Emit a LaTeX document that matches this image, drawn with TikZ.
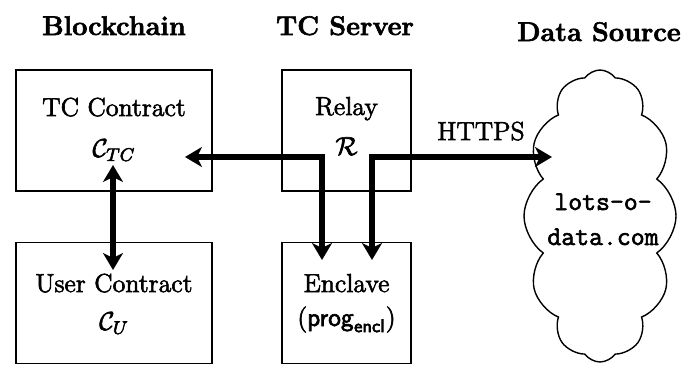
\RequirePackage{fix-cm}
\documentclass[tikz,border=0pt]{standalone}
\usetikzlibrary{shapes.symbols,arrows.meta}
% slightly heavier glyphs: fill and stroke the outlines
\newcommand\heavyink{\special{pdf:literal direct 2 Tr 0.3 w}}
\newcommand\plainink{\special{pdf:literal direct 0 Tr}}
\begin{document}
\begin{tikzpicture}[x=0.5pt,y=-0.5pt,
  ink/.style={execute at begin node=\heavyink, execute at end node=\plainink},
  hdr/.style={ink, font=\fontsize{13.5}{16}\selectfont\bfseries, anchor=base, inner sep=0pt},
  txt/.style={ink, font=\fontsize{13}{16}\selectfont, anchor=base, inner sep=1pt},
  ttx/.style={ink, font=\fontsize{13.5}{16}\selectfont\ttfamily, anchor=base, inner sep=1pt},
  box/.style={draw, line width=0.8pt, minimum width=98pt, minimum height=60.5pt, inner sep=0pt},
  sbox/.style={box, minimum width=64.5pt},
  link/.style={line width=2.6pt, line join=miter,
    {Stealth[length=8.5pt,width=10pt,inset=2.5pt]}-{Stealth[length=8.5pt,width=10pt,inset=2.5pt]}}
]
\useasboundingbox (0,0) rectangle (699,365);

% column headings
\node[hdr] (hbc) at (114,35) {Blockchain};
\node[hdr] (hts) at (345,35) {TC Server};
\node[hdr] (hds) at (599,41) {Data Source};

% boxes
\node[box]  (tcc) at (114,130.5) {};
\node[box]  (usr) at (114,303) {};
\node[sbox] (rel) at (346.5,130.5) {};
\node[sbox] (enc) at (346.5,303) {};

% box texts
\node[txt] (tcct) at (114,116) {TC Contract};
\node[txt] (ctc)  at (114,157) {$\mathcal{C}_{TC}$};
\node[txt] (usrt) at (114,292) {User Contract};
\node[txt] (cu)   at (114,330) {$\mathcal{C}_{U}$};
\node[txt] (relt) at (346.5,115) {Relay};
\node[txt] (rr)   at (346.5,155) {$\mathcal{R}$};
\node[txt] (enct) at (346.5,292) {Enclave};
\node[txt] (prog) at (346.5,326) {$(\mathsf{prog}_{\mathsf{encl}})$};

% data source
\node[cloud, draw, line width=0.7pt, cloud puffs=12, cloud puff arc=110, aspect=0.5,
      minimum width=76pt, minimum height=146pt, inner sep=0pt] (ds) at (600,216) {};
\node[ttx] (dst1) at (603,210) {lots-o-};
\node[ttx] (dst2) at (603,245) {data.com};

% connector corners and ends
\coordinate (jl) at (322,157);
\coordinate (jr) at (372,157);
\coordinate (el) at (322,260);
\coordinate (er) at (372,260);
\coordinate (web) at (552,157);
\coordinate (cup) at (113,165);
\coordinate (cdn) at (113,270);
\coordinate (cin) at (185,157);

% connectors
\draw[link] (cup) -- (cdn);
\draw[link] (cin) -- (jl) -- (el);
\draw[link] (er) -- (jr) -- (web);
\node[txt] (https) at (481,140) {HTTPS};
\end{tikzpicture}
\end{document}
